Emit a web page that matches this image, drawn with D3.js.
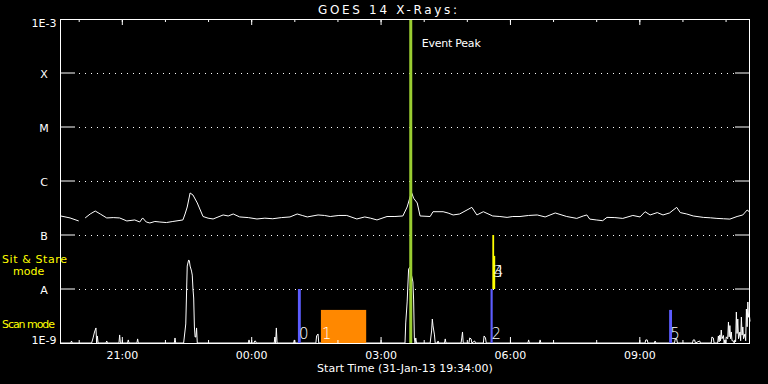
<!DOCTYPE html>
<html>
<head>
<meta charset="utf-8">
<script src="https://cdn.jsdelivr.net/npm/d3@7"></script>
<style>
html, body { margin: 0; padding: 0; background: #000; }
svg { display: block; }
text { font-family: "DejaVu Sans", sans-serif; fill: #fff; }
</style>
</head>
<body>
<svg id="chart"></svg>
<script>
const width = 768;
const height = 384;
const plot = {left: 60, top: 19, right: 750, bottom: 343};

// start of the plot and its length, minutes
const startTime = Date.UTC(2013, 0, 31, 19, 34);
const spanMinutes = 960;
const eventPeakMinute = 488;

const levelValues = [1e-3, 1e-4, 1e-5, 1e-6, 1e-7, 1e-8, 1e-9];
const levelLabels = ["1E-3", "X", "M", "C", "B", "A", "1E-9"];

// long channel (1-8 A), [minutes since start, flux]
const longChannel = [
    [1, 2.25e-7], [14, 2.07e-7], [26, 1.82e-7], [27, null], [35, 2.07e-7], [42, 2.45e-7],
    [49, 2.78e-7], [56, 2.45e-7], [65, 2.07e-7], [74, 2.1e-7], [83, 2.07e-7], [93, 1.82e-7],
    [104, 1.9e-7], [111, 1.74e-7], [115, 2.07e-7], [120, 1.74e-7], [125, 1.67e-7], [132, 1.78e-7],
    [139, 1.74e-7], [148, 1.7e-7], [157, 1.78e-7], [171, 1.9e-7], [174, 2.45e-7], [177, 3.3e-7],
    [181, 6.0e-7], [185, 5.5e-7], [191, 3.92e-7], [199, 2.2e-7], [206, 2.05e-7], [213, 1.98e-7],
    [227, 2.35e-7], [234, 2.25e-7], [241, 2.45e-7], [250, 2.16e-7], [262, 2.1e-7], [274, 1.98e-7],
    [285, 2.05e-7], [296, 2.0e-7], [308, 2.1e-7], [320, 2.16e-7], [330, 2.45e-7], [337, 2.3e-7],
    [344, 2.16e-7], [359, 2.35e-7], [368, 2.3e-7], [376, 2.2e-7], [388, 2.3e-7], [399, 2.3e-7],
    [413, 1.98e-7], [424, 2.16e-7], [432, 2.05e-7], [441, 1.9e-7], [455, 2.2e-7], [466, 2.2e-7],
    [477, 2.25e-7], [483, 3.3e-7], [489, 6.2e-7], [492, 4.8e-7], [497, 3.92e-7], [501, 2.25e-7],
    [515, 2.2e-7], [519, 2.7e-7], [533, 2.7e-7], [540, 2.55e-7], [547, 2.35e-7], [556, 2.45e-7],
    [573, 3.25e-7], [580, 2.35e-7], [589, 2.7e-7], [602, 2.25e-7], [612, 2.2e-7], [622, 2.12e-7],
    [630, 2.2e-7], [640, 2.2e-7], [652, 2.3e-7], [664, 2.35e-7], [675, 2.16e-7], [689, 2.56e-7],
    [705, 2.2e-7], [719, 2.03e-7], [728, 2.25e-7], [733, 2.35e-7], [737, 1.97e-7], [746, 1.9e-7],
    [755, 1.84e-7], [761, 2.12e-7], [772, 2.1e-7], [783, 2.03e-7], [797, 2.3e-7], [807, 2.16e-7],
    [814, 2.7e-7], [821, 2.35e-7], [831, 2.6e-7], [839, 2.35e-7], [848, 2.56e-7], [858, 3.25e-7],
    [863, 2.6e-7], [872, 2.45e-7], [881, 2.25e-7], [895, 2.12e-7], [905, 2.08e-7], [914, 2.03e-7],
    [923, 2.0e-7], [932, 1.97e-7], [942, 2.2e-7], [950, 2.35e-7], [956, 2.9e-7], [959, 2.7e-7]
];

// short channel (0.5-4 A), [minutes since start, flux]
const shortChannel = [
    [0, 1e-9], [15, 1e-9], [16, 1.09e-9], [17, 1e-9],
    [44, 1e-9], [46, 1.24e-9], [48, 1.6e-9], [50, 1.9e-9], [51, 1e-9], [52, 1.35e-9], [53, 1e-9],
    [64, 1e-9], [65, 1.09e-9], [66, 1e-9], [82, 1e-9], [83, 1.41e-9], [84, 1e-9],
    [94, 1e-9], [95, 1.14e-9], [96, 1e-9], [107, 1e-9], [108, 1.19e-9], [109, 1e-9],
    [159, 1e-9], [160, 1.24e-9], [161, 1e-9],
    [172, 1e-9], [175, 2.25e-9], [177, 2.66e-8], [179, 3.45e-8], [180, 3.3e-8], [181, 2.66e-8],
    [183, 2.15e-8], [184, 1.81e-8], [185, 1e-8], [186, 6.81e-9], [187, 1.98e-9], [188, 1.29e-9],
    [189, 1.29e-9], [190, 1.9e-9], [191, 1e-9],
    [262, 1e-9], [263, 1.14e-9], [264, 1e-9], [270, 1e-9], [271, 1.09e-9], [272, 1.09e-9], [273, 1e-9],
    [298, 1e-9], [299, 1.29e-9], [300, 1e-9], [301, 1.9e-9], [302, 1e-9],
    [325, 1e-9], [326, 1.14e-9], [327, 1e-9], [356, 1e-9], [357, 1.35e-9], [359, 1.47e-9], [360, 1e-9],
    [480, 1e-9], [481, 2.35e-9], [483, 5.75e-9], [485, 2.34e-8], [487, 2.55e-8], [489, 1.81e-8],
    [491, 1.35e-8], [492, 6.26e-9], [493, 1.24e-9], [494, 1e-9], [495, 1.24e-9], [496, 1e-9],
    [515, 1e-9], [517, 1.67e-9], [518, 2.78e-9], [519, 2.07e-9], [521, 1.41e-9], [522, 1e-9],
    [525, 1e-9], [526, 1.09e-9], [527, 1e-9], [535, 1e-9], [536, 1.19e-9], [537, 1e-9],
    [558, 1e-9], [559, 1.24e-9], [560, 1.6e-9], [561, 1e-9],
    [569, 1e-9], [570, 1.24e-9], [572, 1.19e-9], [573, 1e-9], [577, 1.09e-9], [578, 1e-9],
    [589, 1e-9], [590, 1.35e-9], [592, 1.24e-9], [593, 1e-9],
    [651, 1e-9], [652, 1.14e-9], [653, 1e-9], [667, 1e-9], [668, 1.14e-9], [669, 1e-9],
    [814, 1e-9], [815, 1.14e-9], [817, 1.14e-9], [818, 1e-9], [827, 1e-9], [828, 1.09e-9], [829, 1e-9],
    [855, 1e-9], [856, 1.19e-9], [858, 1.19e-9], [859, 1e-9],
    [880, 1e-9], [881, 1.14e-9], [883, 1.14e-9], [884, 1e-9], [890, 1.09e-9], [891, 1e-9],
    [906, 1e-9], [907, 1.29e-9], [909, 1.24e-9], [910, 1e-9],
    [915, 1e-9], [916, 1.35e-9], [917, 1.05e-9], [918, 1.41e-9], [919, 1.1e-9], [920, 1.74e-9],
    [921, 1.2e-9], [923, 1.38e-9], [924, 1e-9], [925, 1.14e-9], [926, 1e-9], [927, 1.3e-9],
    [929, 1.2e-9], [930, 2.45e-9], [931, 1.3e-9], [932, 2.1e-9], [933, 1.2e-9], [934, 1.6e-9],
    [935, 1.1e-9], [937, 1.09e-9], [938, 1e-9], [939, 1.14e-9], [940, 1.05e-9], [941, 3.75e-9],
    [942, 1.5e-9], [943, 2.78e-9], [944, 1.2e-9], [946, 1.6e-9], [947, 1.1e-9], [948, 3.03e-9],
    [949, 1.4e-9], [950, 1.98e-9], [951, 1.2e-9], [953, 1.47e-9], [954, 1.1e-9], [955, 4.26e-9],
    [956, 2.0e-9], [957, 5.75e-9], [958, 3.0e-9], [959, 3.45e-9], [960, 2.5e-9]
];

// observing events (scan mode / sit & stare)
const eventIds = ["0", "1", "2", "3", "4", "5"];
const eventStart = [331, 363, 599, 601.5, 602.5, 847.5];
const eventEnd = [335, 426, 602, 604, 605.5, 851.5];
const eventLow = [1e-9, 1e-9, 1e-9, 1e-8, 1e-8, 1e-9];
const eventHigh = [1e-8, 4.1e-9, 1e-8, 1e-7, 4.1e-8, 4.1e-9];
const eventLabelFlux = [1.21e-9, 1.21e-9, 1.21e-9, 1.65e-8, 1.65e-8, 1.21e-9];
const eventColors = ["#5c5cff", "#ff8800", "#5c5cff", "#ffff00", "#ffff00", "#5c5cff"];

function t(m) { return new Date(startTime + m * 60000); }

var svg = d3.select("#chart")
    .attr("width", width)
    .attr("height", height)
    .style("background", "#000");

var x = d3.scaleUtc().domain([t(0), t(spanMinutes)]).range([plot.left, plot.right]);
var y = d3.scaleLog().domain([1e-9, 1e-3]).range([plot.bottom, plot.top]);

// level grid: solid stubs at both ends, dotted in between
levelValues.slice(1, -1).forEach(function(v) {
    var yy = y(v);
    svg.append("line")
        .attr("x1", plot.left).attr("x2", plot.left + 15)
        .attr("y1", yy).attr("y2", yy)
        .attr("stroke", "#fff");
    svg.append("line")
        .attr("x1", plot.right - 15).attr("x2", plot.right)
        .attr("y1", yy).attr("y2", yy)
        .attr("stroke", "#fff");
    svg.append("line")
        .attr("x1", plot.left + 15).attr("x2", plot.right - 15)
        .attr("y1", yy + 0.5).attr("y2", yy + 0.5)
        .attr("stroke", "#fff")
        .attr("stroke-dasharray", "1,5")
        .attr("stroke-dashoffset", 2);
});

// level labels
svg.selectAll(".level-label")
    .data(levelValues)
    .enter().append("text")
    .attr("class", "level-label")
    .attr("x", 44)
    .attr("y", function(d, i) {
        if (i === 0) return y(d) + 8;
        if (i === levelValues.length - 1) return y(d) + 0.5;
        return y(d) + 5;
    })
    .attr("text-anchor", "middle")
    .style("font-size", "11px")
    .text(function(d, i) { return levelLabels[i]; });

// curves
var line = d3.line()
    .defined(function(d) { return d[1] !== null; })
    .x(function(d) { return x(t(d[0])); })
    .y(function(d) { return y(d[1]); });

svg.append("path")
    .datum(longChannel)
    .attr("d", line)
    .attr("fill", "none")
    .attr("stroke", "#fff")
    .attr("stroke-width", 1);

svg.append("path")
    .datum(shortChannel)
    .attr("d", line)
    .attr("fill", "none")
    .attr("stroke", "#fff")
    .attr("stroke-width", 1);

// event bars
eventIds.forEach(function(id, i) {
    svg.append("rect")
        .attr("x", x(t(eventStart[i])))
        .attr("width", x(t(eventEnd[i])) - x(t(eventStart[i])))
        .attr("y", y(eventHigh[i]))
        .attr("height", y(eventLow[i]) - y(eventHigh[i]))
        .attr("fill", eventColors[i]);
});

// event peak marker
svg.append("line")
    .attr("x1", x(t(eventPeakMinute))).attr("x2", x(t(eventPeakMinute)))
    .attr("y1", plot.top).attr("y2", plot.bottom)
    .attr("stroke", "#9acd32")
    .attr("stroke-width", 3);

svg.append("text")
    .attr("x", x(t(eventPeakMinute)) + 11)
    .attr("y", 47)
    .attr("textLength", 59)
    .style("font-size", "11px")
    .text("Event Peak");

eventIds.forEach(function(id, i) {
    svg.append("text")
        .attr("x", x(t(eventStart[i])) + 1)
        .attr("y", y(eventLabelFlux[i]))
        .style("font-size", "15px")
        .style("font-weight", "200")
        .text(id);
});

// frame
svg.append("rect")
    .attr("x", plot.left + 0.5).attr("y", plot.top + 0.5)
    .attr("width", plot.right - plot.left - 1)
    .attr("height", plot.bottom - plot.top)
    .attr("fill", "none")
    .attr("stroke", "#fff");

// time axes, ticks pointing inward
function styleAxis(g) {
    g.select(".domain").remove();
    g.selectAll(".tick line").attr("stroke", "#fff");
    g.selectAll(".tick text")
        .attr("fill", "#fff")
        .style("font-family", "DejaVu Sans, sans-serif")
        .style("font-size", "11px");
}

svg.append("g")
    .attr("transform", "translate(0," + plot.bottom + ")")
    .call(d3.axisBottom(x).ticks(d3.utcHour.every(1)).tickSize(-3).tickFormat(""))
    .call(styleAxis);
svg.append("g")
    .attr("transform", "translate(0," + plot.bottom + ")")
    .call(d3.axisBottom(x).ticks(d3.utcHour.every(3)).tickSize(-6).tickPadding(8)
        .tickFormat(d3.utcFormat("%H:%M")))
    .call(styleAxis);
svg.append("g")
    .attr("transform", "translate(0," + plot.top + ")")
    .call(d3.axisTop(x).ticks(d3.utcHour.every(1)).tickSize(-3).tickFormat(""))
    .call(styleAxis);
svg.append("g")
    .attr("transform", "translate(0," + plot.top + ")")
    .call(d3.axisTop(x).ticks(d3.utcHour.every(3)).tickSize(-6).tickFormat(""))
    .call(styleAxis);

// titles
svg.append("text")
    .attr("x", 318).attr("y", 14)
    .attr("textLength", 139)
    .style("font-size", "12px")
    .text("GOES 14 X-Rays:");

svg.append("text")
    .attr("x", 405).attr("y", 372)
    .attr("text-anchor", "middle")
    .style("font-size", "11px")
    .text("Start Time (31-Jan-13 19:34:00)");

svg.append("text")
    .attr("x", 2).attr("y", 263)
    .attr("textLength", 65)
    .style("font-size", "11px")
    .style("fill", "#ffff00")
    .text("Sit & Stare");
svg.append("text")
    .attr("x", 13).attr("y", 275)
    .style("font-size", "11px")
    .style("fill", "#ffff00")
    .text("mode");
svg.append("text")
    .attr("x", 2).attr("y", 328)
    .attr("textLength", 53)
    .style("font-size", "11px")
    .style("fill", "#ffff00")
    .text("Scan mode");
</script>
</body>
</html>
